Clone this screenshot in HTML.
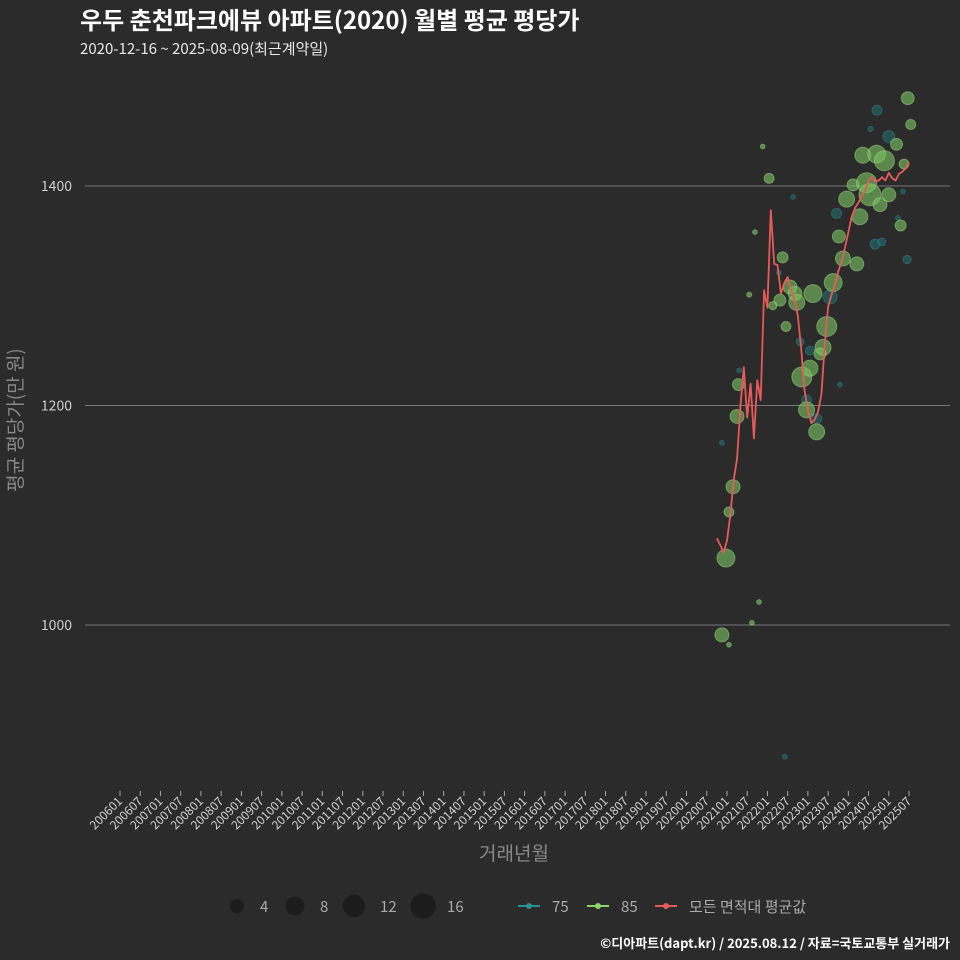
<!DOCTYPE html>
<html><head><meta charset="utf-8">
<style>
html,body{margin:0;padding:0;background:#2b2b2b;}
svg{display:block;font-family:"Noto Sans CJK KR","Liberation Sans",sans-serif;}
</style></head>
<body>
<svg id="chart" width="960" height="960" viewBox="0 0 960 960">
<rect width="960" height="960" fill="#2b2b2b"/>
<text x="80" y="29" fill="#ffffff" font-size="24" font-weight="bold">우두 춘천파크에뷰 아파트(2020) 월별 평균 평당가</text>
<text x="80" y="54" fill="#e8e8e8" font-size="15">2020-12-16 ~ 2025-08-09(최근계약일)</text>
<g id="grid"></g>
<g id="yaxis"></g>
<g id="xaxis"></g>
<g id="bubbles"></g>
<g id="line"></g>
<text transform="translate(22,420) rotate(-90)" text-anchor="middle" fill="#888" font-size="19">평균 평당가(만 원)</text>
<text x="514" y="860" text-anchor="middle" fill="#888" font-size="19">거래년월</text>
<g id="legend"></g>
<text x="950" y="948" text-anchor="end" fill="#ffffff" font-size="13" font-weight="bold">©디아파트(dapt.kr) / 2025.08.12 / 자료=국토교통부 실거래가</text>
</svg>
<script>
// months since 2006-01
const yTicks=[1000,1200,1400];
const lineStartMonth=177;
const lineValues=[1079,1073,1066,1077,1100,1132,1152,1199,1235,1189,1220,1170,1223,1205,1305,1289,1378,1329,1328,1302,1312,1317,1305,1296,1282,1253,1214,1196,1184,1187,1194,1210,1255,1290,1301,1310,1322,1331,1344,1358,1372,1380,1385,1391,1396,1405,1408,1404,1405,1408,1405,1412,1407,1405,1411,1413,1416,1422];
const greenMonths=[233.6,234.5,230.3,220.3,224.4,226.7,232.5,192.5,190.6,217.4,221.4,215.5,222.4,225.4,228,219.4,231.5,213.2,214.4,218.5,196.5,186.6,198.7,200.2,195.7,193.6,200.7,205.5,211.5,209.6,197.5,208.5,207.6,202.2,204.6,203.6,206.6,183.4,183,178.5,179.7,180.6,181.8,189.5,188.3,187.4,180.6];
const greenValues=[1480,1456,1438,1428,1429,1423,1420,1407,1436,1401,1403,1388,1392,1383,1392,1372,1364,1354,1334,1329,1335,1301,1308,1302,1296,1291,1294,1302,1312,1272,1272,1253,1247,1226,1234,1196,1176,1219,1190,991,1061,1103,1126,1021,1358,1002,982];
const greenCounts=[3.3,1.7,2.7,5.5,7.2,9.2,1.7,1.7,0.15,2.7,9.2,5.5,11.4,4,4,5.5,2.2,3.3,4.7,4,2.2,0.2,4,4,2.7,1,5.5,7.2,7.2,9.2,1.7,5.5,2.7,9.2,5.5,5.5,5.5,2.7,4,4,7.2,1.7,4,0.15,0.15,0.15,0.15];
const tealMonths=[224.5,222.6,228,199.6,212.5,232.2,230.7,223.9,225.9,233.4,195.4,210.6,201.7,204.6,213.5,203.6,206.6,183.6,178.5,197.2];
const tealValues=[1469,1452,1445,1390,1375,1395,1371,1347,1349,1333,1321,1299,1258,1250,1219,1205,1188,1232,1166,880];
const tealCounts=[1.7,0.2,2.7,0.15,1.7,0.15,0.15,1.7,0.9,1,0.15,4,0.9,1.3,0.15,1.7,1.7,0.15,0.15,0.15];
const xTickLabels=[];
for(let y=2006;y<=2025;y++){xTickLabels.push(y+"01");xTickLabels.push(y+"07");}
const legendSizes=[4,8,12,16];

const NS="http://www.w3.org/2000/svg";
function mk(tag,attrs,parent){const e=document.createElementNS(NS,tag);for(const k in attrs)e.setAttribute(k,attrs[k]);parent.appendChild(e);return e;}
const xScale=m=>120+m*3.372;
const yScale=v=>186+(1400-v)*219.5/200;
const rScale=n=>1.2+2.9*Math.sqrt(n);

const grid=document.getElementById('grid'),yax=document.getElementById('yaxis');
yTicks.forEach(t=>{
  const l=mk('line',{x1:85,x2:950,y1:yScale(t),y2:yScale(t),stroke:'#777','stroke-width':1},grid);
  
  
  const tx=mk('text',{x:72,y:yScale(t)+5,'text-anchor':'end',fill:'#cfcfcf','font-size':14},yax);
  tx.textContent=t;
  
  
});
const xax=document.getElementById('xaxis');
xTickLabels.forEach((lab,i)=>{
  const x=xScale(i*6);
  const tk=mk('line',{x1:x,x2:x,y1:791,y2:796,stroke:'#aaa','stroke-width':1},xax);
  
  
  const tx=mk('text',{x:x+3,y:802,'text-anchor':'end',fill:'#d0d0d0','font-size':12,transform:`rotate(-45 ${x+3} 802)`},xax);
  tx.textContent=lab;
  
  
});
const bg=document.getElementById('bubbles');
function drawB(ms,vs,cs,fill,stroke,name){
  ms.forEach((m,i)=>{
    const c=mk('circle',{cx:xScale(m),cy:yScale(vs[i]),r:rScale(cs[i]),fill:fill,'fill-opacity':0.6,stroke:stroke,'stroke-opacity':0.5,'stroke-width':1},bg);
    
    
  });
}
drawB(tealMonths,tealValues,tealCounts,'#236b6b','#2f8a8a','bubble-75');
drawB(greenMonths,greenValues,greenCounts,'#7cc462','#a2dc86','bubble-85');
const pts=lineValues.map((v,i)=>xScale(lineStartMonth+i).toFixed(1)+','+yScale(v).toFixed(1)).join(' ');
const pl=mk('polyline',{points:pts,fill:'none',stroke:'#e85a5a','stroke-width':1.8,'stroke-linejoin':'round'},document.getElementById('line'));



const lg=document.getElementById('legend');
const lx=[237,295,354,423],ltx=[260,320,380,447];
legendSizes.forEach((s,i)=>{
  const c=mk('circle',{cx:lx[i],cy:906,r:rScale(s),fill:'#1c1c1c'},lg);
  
  
  const t=mk('text',{x:ltx[i],y:912,fill:'#aaa','font-size':15},lg);
  t.textContent=s;
  
  
});
const ents=[[518,'#2a9090','75'],[587,'#8ad46a','85'],[655,'#e85a5a','모든 면적대 평균값']];
ents.forEach(e=>{
  const g=mk('g',{},lg);
  
  
  mk('line',{x1:e[0],x2:e[0]+22,y1:906,y2:906,stroke:e[1],'stroke-width':2},g);
  mk('circle',{cx:e[0]+11,cy:906,r:3,fill:e[1]},g);
  const t=mk('text',{x:e[0]+34,y:912,fill:'#aaa','font-size':15},g);
  t.textContent=e[2];
});
</script>
</body></html>
